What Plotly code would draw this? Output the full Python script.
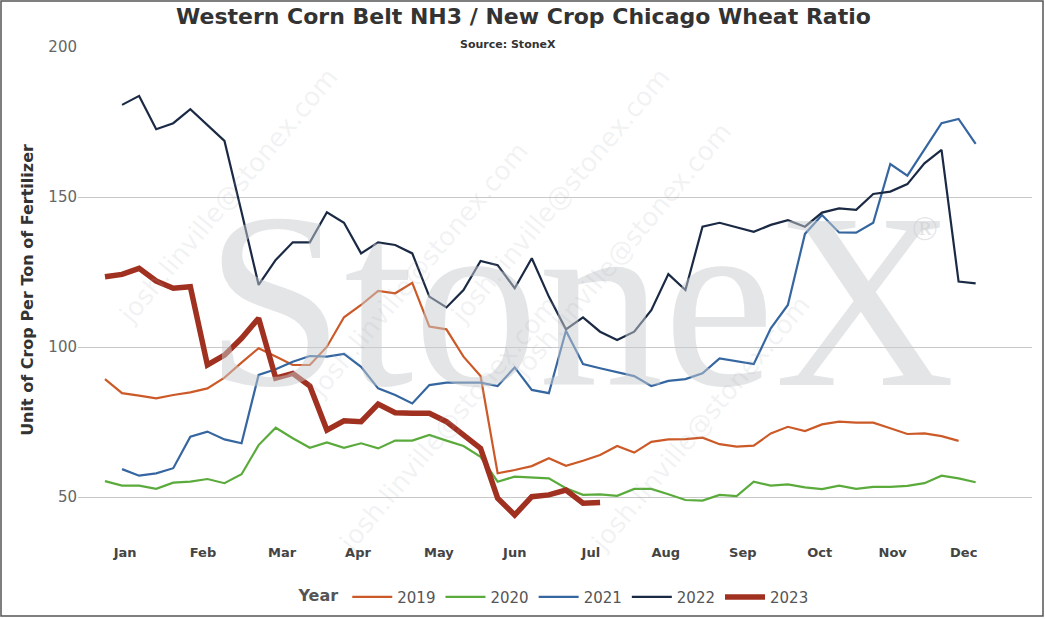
import plotly.graph_objects as go

weeks = list(range(-1, 51))
y2019 = [89.3,84.6,83.8,82.9,84,84.9,86.2,89.8,94.8,99.6,96.8,94,94,100.1,109.9,114,118.7,117.9,121.4,106.8,105.9,96.8,90.3,57.9,59,60.3,62.9,60.4,62.1,64,67,64.8,68.4,69.2,69.3,69.8,67.6,66.8,67.1,71.2,73.4,72,74.2,75.1,74.8,74.8,72.9,71,71.2,70.3,68.7,None]
y2020 = [55.3,53.8,53.8,52.7,54.8,55.1,56,54.6,57.6,67.3,73.1,69.6,66.4,68.2,66.4,67.9,66.2,68.8,68.8,70.7,68.8,67,63.4,55.1,56.8,56.4,56.2,52.9,50.7,50.9,50.4,52.7,52.7,50.9,49,48.8,50.7,50.3,55.1,53.8,54.2,53.2,52.6,53.8,52.7,53.4,53.4,53.7,54.6,57.1,56.2,54.9]
y2021 = [None,59.3,57.1,57.9,59.6,70.1,71.8,69.2,67.9,90.7,92.6,95.1,97,96.8,97.7,93.4,86.2,84,81.2,87.3,88.1,88.1,88.1,87,93.2,85.7,84.6,105.4,94.3,92.9,91.6,90.3,87,88.7,89.3,91.2,96.2,95.3,94.3,106.2,114,137.7,144,138.2,138.1,141.4,161,157.1,165.7,174.6,176,167.7]
y2022 = [None,180.7,183.7,172.6,174.6,179.3,174,168.7,145,120.7,129,134.9,134.9,144.9,141.4,131.2,134.9,134,131.2,116.8,113.2,119,128.7,127.3,119.6,129.6,116.8,105.9,109.9,105.1,102.3,105.1,112.3,124.3,119,140.1,141.4,139.8,138.4,140.7,142.3,140.1,144.8,146.2,145.7,151,151.8,154.3,161.2,165.7,121.8,121.2]
y2023 = [123.4,124.2,126.2,122,119.6,120.1,94,97.3,102.9,109.6,89.6,91.2,87,72.3,75.4,75.1,81,78.1,77.9,77.9,75.1,70.7,66.2,49.6,44,50.1,50.7,52.3,47.9,48.2]
months = ["Jan","Feb","Mar","Apr","May","Jun","Jul","Aug","Sep","Oct","Nov","Dec"]
month_pos = [0.18,4.74,9.37,13.82,18.56,23.0,27.46,31.85,36.36,40.87,45.14,49.3]

series = [("2019", y2019, "#cc5a28", 2.2), ("2020", y2020, "#5aab3c", 2.2),
          ("2021", y2021, "#3566a0", 2.2), ("2022", y2022, "#1b2a44", 2.2),
          ("2023", y2023, "#a0301f", 5.5)]

fig = go.Figure()
for name, ys, col, w in series:
    fig.add_trace(go.Scatter(x=weeks[:len(ys)], y=ys, name=name, mode="lines",
                             line=dict(color=col, width=w), connectgaps=False))

H = 486.0
W = 954.0
wm = "rgba(170,175,180,0.16)"
anns = [
    dict(text="<b>Western Corn Belt NH3 / New Crop Chicago Wheat Ratio</b>", x=(523-78)/W, y=1+31/H, xref="paper", yref="paper",
         showarrow=False, font=dict(size=22, color="#333333", family="Verdana, DejaVu Sans"), xanchor="center", yanchor="middle"),
    dict(text="<b>Source: StoneX</b>", x=(508-78)/W, y=1+2/H, xref="paper", yref="paper", showarrow=False,
         font=dict(size=11, color="#333333", family="Verdana, DejaVu Sans"), xanchor="center", yanchor="middle"),
    dict(text="StoneX", x=(580-78)/W, y=(533-300)/H, xref="paper", yref="paper", showarrow=False,
         font=dict(size=250, color="rgba(200,203,207,0.5)", family="Liberation Serif")),
    dict(text="®", x=(940-78)/W, y=(533-228)/H, xref="paper", yref="paper", showarrow=False,
         font=dict(size=34, color="rgba(200,203,207,0.5)", family="Liberation Serif")),
]
for (px, py) in [(110, 60), (300, 270), (560, 60), (740, 250), (330, 560), (700, 560)]:
    anns.append(dict(text="josh.linville@stonex.com", x=(px-78)/W, y=(533-py)/H, xref="paper", yref="paper",
                     showarrow=False, textangle=-50, font=dict(size=26, color=wm, family="DejaVu Sans")))
fig.update_layout(
    width=1045, height=619, paper_bgcolor="white", plot_bgcolor="white",
    margin=dict(l=78, r=13, t=47, b=86, autoexpand=False),
    font=dict(family="Verdana, DejaVu Sans", color="#666666"),
    annotations=anns,
    xaxis=dict(range=[-2.58, 53.3], tickvals=month_pos, ticktext=["<b>%s</b>" % m for m in months],
               showgrid=False, zeroline=False, showline=False, ticks="", automargin=False,
               ticklabelstandoff=10, tickfont=dict(size=13, color="#444444")),
    yaxis=dict(range=[38, 200], tickvals=[50, 100, 150, 200], showgrid=True, gridcolor="#c8c8c8",
               zeroline=False, tickfont=dict(size=15, color="#666666"), ticks="", automargin=False,
               title=dict(text="<b>Unit of Crop Per Ton of Fertilizer</b>", font=dict(size=16, color="#333333"), standoff=10)),
    legend=dict(orientation="h", x=0.5, xanchor="center", y=-0.098, yanchor="top",
                title=dict(text="<b>Year</b>", font=dict(size=16, color="#555555")),
                font=dict(size=15, color="#555555"), itemwidth=40),
    shapes=[dict(type="rect", xref="paper", yref="paper", x0=-77/W, x1=1+11/W, y0=-83/H, y1=1+46/H,
                 line=dict(color="#555555", width=1.5))],
)
fig.write_html("out.html", config={"displayModeBar": False},
               post_script="document.body.style.margin='0';document.body.style.padding='0';")
